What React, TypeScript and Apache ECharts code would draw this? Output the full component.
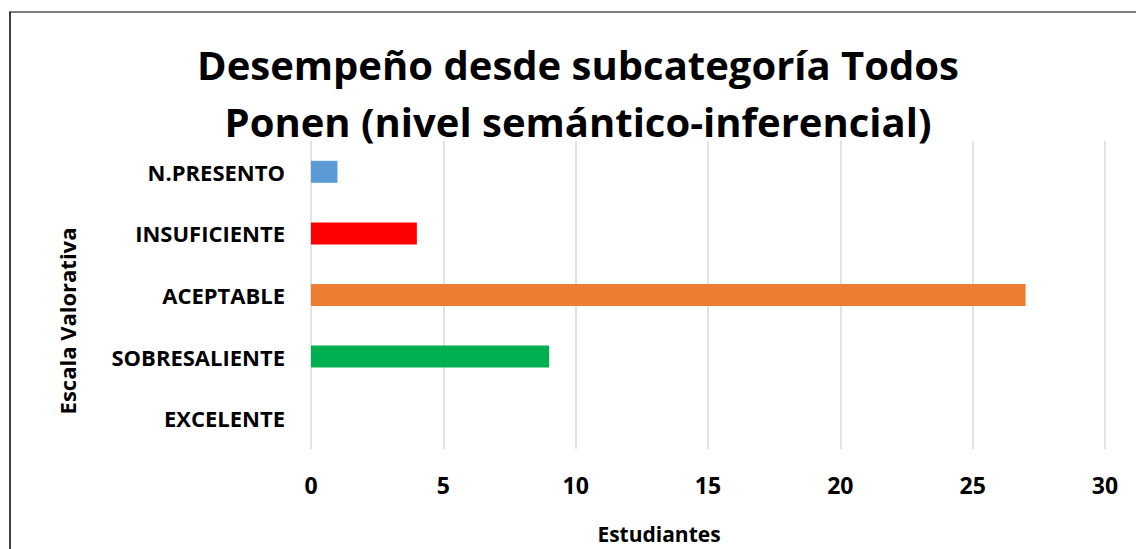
import React, { useEffect, useRef } from "react";
import * as echarts from "echarts";

const categories = ["N.PRESENTO", "INSUFICIENTE", "ACEPTABLE", "SOBRESALIENTE", "EXCELENTE"];
const values = [1, 4, 27, 9, 0];
const barColors = ["#5B9BD5", "#FF0000", "#ED7D31", "#00B050", "#7F7F7F"];
const titleLines = ["Desempeño desde subcategoría Todos", "Ponen (nivel semántico-inferencial)"];
const xName = "Estudiantes";
const yName = "Escala Valorativa";

const FONT = "'Open Sans'";

export default function App() {
  const ref = useRef<HTMLDivElement>(null);
  useEffect(() => {
    const chart = echarts.init(ref.current!, null, { renderer: "svg" });
    chart.setOption({
      animation: false,
      backgroundColor: "#ffffff",
      grid: { left: 311, right: 31, top: 141, bottom: 100, containLabel: false },
      xAxis: {
        type: "value",
        min: 0,
        max: 30,
        interval: 5,
        axisLine: { show: false },
        axisTick: { show: false },
        splitLine: { show: true, lineStyle: { color: "#D9D9D9", width: 1.5 } },
        axisLabel: {
          margin: 24,
          color: "#000",
          fontFamily: "Open Sans",
          fontWeight: "bold",
          fontSize: 23,
        },
      },
      yAxis: {
        type: "category",
        inverse: true,
        data: categories,
        axisLine: { show: false },
        axisTick: { show: false },
        splitLine: { show: false },
        axisLabel: {
          margin: 26,
          color: "#000",
          fontFamily: "Open Sans",
          fontWeight: "bold",
          fontSize: 22,
        },
      },
      series: [
        {
          type: "bar",
          data: values.map((v, i) => ({ value: v, itemStyle: { color: barColors[i] } })),
          barWidth: 22,
        },
      ],
      graphic: [
        { type: "line", shape: { x1: 9, y1: 12, x2: 1136, y2: 12 }, style: { stroke: "#7F7F7F", lineWidth: 2 } },
        { type: "line", shape: { x1: 10, y1: 12, x2: 10, y2: 549 }, style: { stroke: "#000000", lineWidth: 1.5 } },
        {
          type: "text",
          x: 578,
          y: 64,
          style: { text: titleLines[0], fill: "#000", font: `bold 40px ${FONT}`, align: "center", verticalAlign: "middle" },
        },
        {
          type: "text",
          x: 578,
          y: 121,
          style: { text: titleLines[1], fill: "#000", font: `bold 40px ${FONT}`, align: "center", verticalAlign: "middle" },
        },
        {
          type: "text",
          x: 659,
          y: 534,
          style: { text: xName, fill: "#000", font: `bold 21px ${FONT}`, align: "center", verticalAlign: "middle" },
        },
        {
          type: "text",
          x: 67,
          y: 321,
          rotation: Math.PI / 2,
          style: { text: yName, fill: "#000", font: `bold 22px ${FONT}`, align: "center", verticalAlign: "middle" },
        },
      ],
    });
    return () => chart.dispose();
  }, []);
  return <div ref={ref} style={{ position: "fixed", left: 0, top: 0, width: 1136, height: 549 }} />;
}
